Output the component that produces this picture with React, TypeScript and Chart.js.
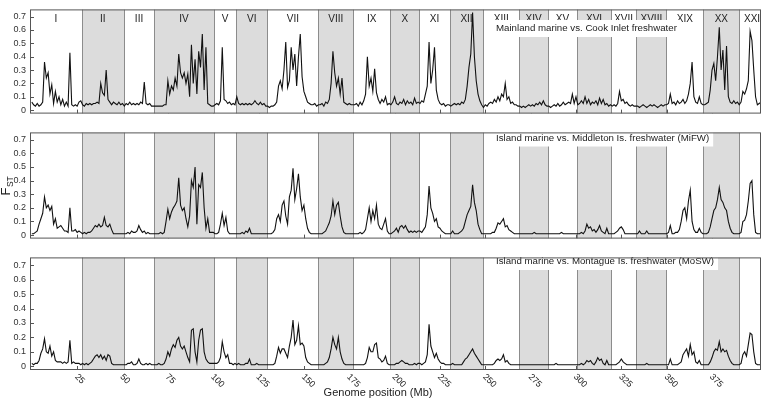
import React, { useEffect, useRef } from "react";
import { Chart, registerables } from "chart.js";

Chart.register(...registerables);

// ---- data -------------------------------------------------------------
// genome position grid (Mb), one window per Mb
const positionsMb = Array.from({ length: 403 }, (_, i) => i);

// Mainland marine vs. Cook Inlet freshwater
const fstCookInlet = [
  0.06, 0.04, 0.03, 0.05, 0.03, 0.04, 0.06, 0.36, 0.24, 0.28,
  0.12, 0.19, 0.05, 0.14, 0.06, 0.10, 0.04, 0.08, 0.03, 0.06,
  0.03, 0.43, 0.04, 0.03, 0.04, 0.03, 0.06, 0.07, 0.04, 0.03,
  0.05, 0.04, 0.05, 0.04, 0.05, 0.05, 0.06, 0.05, 0.20, 0.13,
  0.11, 0.30, 0.08, 0.06, 0.04, 0.06, 0.05, 0.04, 0.06, 0.04,
  0.05, 0.03, 0.05, 0.04, 0.06, 0.04, 0.05, 0.04, 0.05, 0.04,
  0.06, 0.05, 0.21, 0.05, 0.04, 0.05, 0.03, 0.03, 0.03, 0.03,
  0.03, 0.03, 0.03, 0.04, 0.04, 0.22, 0.12, 0.18, 0.15, 0.24,
  0.18, 0.42, 0.28, 0.24, 0.28, 0.20, 0.27, 0.10, 0.49, 0.20,
  0.38, 0.12, 0.44, 0.32, 0.57, 0.15, 0.47, 0.05, 0.04, 0.03,
  0.03, 0.04, 0.05, 0.04, 0.07, 0.47, 0.08, 0.07, 0.05, 0.06,
  0.04, 0.05, 0.04, 0.10, 0.05, 0.04, 0.05, 0.04, 0.05, 0.04,
  0.05, 0.04, 0.05, 0.07, 0.05, 0.04, 0.06, 0.04, 0.05, 0.03,
  0.03, 0.02, 0.03, 0.03, 0.04, 0.06, 0.18, 0.22, 0.16, 0.30,
  0.51, 0.17, 0.22, 0.47, 0.30, 0.42, 0.18, 0.40, 0.57, 0.25,
  0.14, 0.10, 0.06, 0.05, 0.04, 0.04, 0.05, 0.03, 0.04, 0.04,
  0.05, 0.03, 0.06, 0.05, 0.08, 0.20, 0.44, 0.28, 0.18, 0.24,
  0.12, 0.24, 0.06, 0.05, 0.04, 0.05, 0.04, 0.04, 0.04, 0.05,
  0.03, 0.06, 0.04, 0.07, 0.12, 0.40, 0.18, 0.24, 0.14, 0.31,
  0.13, 0.08, 0.05, 0.08, 0.06, 0.10, 0.04, 0.05, 0.04, 0.06,
  0.10, 0.05, 0.04, 0.06, 0.05, 0.08, 0.04, 0.07, 0.05, 0.06,
  0.04, 0.09, 0.05, 0.06, 0.05, 0.07, 0.06, 0.12, 0.18, 0.51,
  0.20, 0.30, 0.47, 0.15, 0.08, 0.05, 0.04, 0.05, 0.03, 0.04,
  0.04, 0.03, 0.04, 0.05, 0.04, 0.05, 0.04, 0.06, 0.05, 0.08,
  0.18, 0.32, 0.42, 0.73, 0.40, 0.22, 0.12, 0.07, 0.04, 0.02,
  0.04, 0.03, 0.05, 0.06, 0.05, 0.08, 0.06, 0.10, 0.07, 0.12,
  0.10, 0.20, 0.08, 0.10, 0.05, 0.06, 0.04, 0.04, 0.03, 0.03,
  0.02, 0.03, 0.02, 0.03, 0.04, 0.03, 0.04, 0.03, 0.05, 0.04,
  0.06, 0.04, 0.07, 0.04, 0.03, 0.03, 0.02, 0.03, 0.04, 0.03,
  0.05, 0.03, 0.04, 0.06, 0.04, 0.05, 0.06, 0.05, 0.12, 0.05,
  0.10, 0.04, 0.05, 0.07, 0.05, 0.10, 0.05, 0.08, 0.04, 0.06,
  0.05, 0.07, 0.04, 0.09, 0.05, 0.08, 0.04, 0.05, 0.03, 0.04,
  0.03, 0.04, 0.03, 0.05, 0.14, 0.07, 0.08, 0.05, 0.06, 0.04,
  0.03, 0.04, 0.03, 0.03, 0.03, 0.02, 0.03, 0.04, 0.03, 0.02,
  0.03, 0.04, 0.03, 0.04, 0.03, 0.02, 0.03, 0.04, 0.03, 0.04,
  0.04, 0.05, 0.12, 0.05, 0.06, 0.04, 0.07, 0.05, 0.06, 0.08,
  0.05, 0.07, 0.12, 0.20, 0.36, 0.10, 0.06, 0.05, 0.10, 0.05,
  0.04, 0.04, 0.05, 0.06, 0.15, 0.30, 0.35, 0.22, 0.40, 0.62,
  0.30, 0.45, 0.15, 0.48, 0.10, 0.06, 0.05, 0.07, 0.05, 0.06,
  0.04, 0.06, 0.14, 0.12, 0.16, 0.22, 0.59, 0.52, 0.30, 0.10,
  0.04, 0.05, 0.06,
];

// Island marine vs. Middleton Is. freshwater (MiFW)
const fstMiddleton = [
  0.01, 0.01, 0.02, 0.03, 0.08, 0.12, 0.16, 0.28, 0.20, 0.22,
  0.18, 0.21, 0.08, 0.12, 0.05, 0.06, 0.07, 0.05, 0.03, 0.03,
  0.02, 0.20, 0.03, 0.03, 0.04, 0.02, 0.03, 0.02, 0.01, 0.02,
  0.01, 0.02, 0.02, 0.03, 0.05, 0.07, 0.06, 0.08, 0.06, 0.07,
  0.13, 0.07, 0.06, 0.08, 0.04, 0.01, 0.01, 0.01, 0.01, 0.01,
  0.01, 0.01, 0.01, 0.02, 0.01, 0.03, 0.02, 0.02, 0.03, 0.07,
  0.04, 0.02, 0.03, 0.01, 0.02, 0.01, 0.01, 0.01, 0.01, 0.01,
  0.01, 0.02, 0.01, 0.02, 0.10, 0.19, 0.12, 0.17, 0.20, 0.22,
  0.25, 0.42, 0.22, 0.18, 0.20, 0.12, 0.06, 0.14, 0.40, 0.35,
  0.50, 0.08, 0.37, 0.35, 0.46, 0.20, 0.05, 0.12, 0.02, 0.02,
  0.02, 0.01, 0.01, 0.02, 0.08, 0.16, 0.07, 0.13, 0.03, 0.01,
  0.01, 0.01, 0.01, 0.01, 0.01, 0.01, 0.02, 0.01, 0.03, 0.02,
  0.05, 0.01, 0.01, 0.01, 0.01, 0.01, 0.01, 0.01, 0.01, 0.01,
  0.01, 0.01, 0.01, 0.02, 0.04, 0.12, 0.15, 0.10, 0.22, 0.25,
  0.14, 0.08, 0.28, 0.33, 0.49, 0.26, 0.34, 0.45, 0.28, 0.18,
  0.22, 0.12, 0.05, 0.02, 0.01, 0.01, 0.01, 0.01, 0.01, 0.01,
  0.01, 0.02, 0.03, 0.06, 0.09, 0.14, 0.25, 0.15, 0.22, 0.24,
  0.14, 0.06, 0.02, 0.01, 0.01, 0.01, 0.01, 0.01, 0.01, 0.01,
  0.01, 0.02, 0.01, 0.02, 0.04, 0.12, 0.20, 0.10, 0.18, 0.12,
  0.22, 0.08, 0.05, 0.04, 0.08, 0.12, 0.03, 0.01, 0.01, 0.02,
  0.03, 0.05, 0.02, 0.06, 0.07, 0.05, 0.07, 0.04, 0.02, 0.03,
  0.02, 0.03, 0.02, 0.03, 0.03, 0.02, 0.04, 0.06, 0.15, 0.36,
  0.20, 0.16, 0.10, 0.12, 0.06, 0.05, 0.03, 0.02, 0.01, 0.01,
  0.01, 0.01, 0.03, 0.01, 0.01, 0.01, 0.02, 0.03, 0.05, 0.10,
  0.15, 0.18, 0.21, 0.37, 0.24, 0.18, 0.08, 0.04, 0.01, 0.01,
  0.01, 0.01, 0.01, 0.01, 0.02, 0.02, 0.05, 0.09, 0.08, 0.10,
  0.12, 0.06, 0.07, 0.04, 0.03, 0.02, 0.01, 0.01, 0.01, 0.01,
  0.01, 0.01, 0.01, 0.01, 0.01, 0.01, 0.01, 0.02, 0.01, 0.01,
  0.01, 0.01, 0.01, 0.01, 0.01, 0.01, 0.01, 0.01, 0.01, 0.01,
  0.01, 0.01, 0.02, 0.01, 0.01, 0.01, 0.01, 0.01, 0.01, 0.01,
  0.01, 0.01, 0.01, 0.02, 0.01, 0.03, 0.08, 0.05, 0.06, 0.03,
  0.04, 0.02, 0.04, 0.07, 0.03, 0.02, 0.01, 0.05, 0.01, 0.01,
  0.01, 0.01, 0.02, 0.03, 0.05, 0.06, 0.04, 0.01, 0.01, 0.01,
  0.01, 0.01, 0.01, 0.01, 0.01, 0.03, 0.01, 0.01, 0.01, 0.03,
  0.01, 0.01, 0.01, 0.01, 0.01, 0.01, 0.01, 0.01, 0.01, 0.01,
  0.01, 0.02, 0.07, 0.01, 0.01, 0.02, 0.02, 0.04, 0.10, 0.18,
  0.20, 0.12, 0.25, 0.33, 0.10, 0.04, 0.02, 0.02, 0.05, 0.02,
  0.01, 0.01, 0.01, 0.02, 0.06, 0.12, 0.18, 0.20, 0.26, 0.35,
  0.26, 0.24, 0.20, 0.18, 0.10, 0.05, 0.02, 0.01, 0.01, 0.01,
  0.01, 0.02, 0.10, 0.11, 0.15, 0.25, 0.38, 0.40, 0.15, 0.02,
  0.01, 0.01, 0.01,
];

// Island marine vs. Montague Is. freshwater (MoSW)
const fstMontague = [
  0.02, 0.01, 0.02, 0.02, 0.04, 0.09, 0.12, 0.19, 0.10, 0.09,
  0.14, 0.07, 0.10, 0.04, 0.03, 0.03, 0.03, 0.02, 0.03, 0.02,
  0.03, 0.18, 0.02, 0.03, 0.02, 0.02, 0.02, 0.01, 0.02, 0.01,
  0.02, 0.01, 0.02, 0.03, 0.05, 0.07, 0.08, 0.06, 0.08, 0.05,
  0.07, 0.04, 0.08, 0.07, 0.02, 0.01, 0.01, 0.01, 0.01, 0.01,
  0.01, 0.01, 0.01, 0.02, 0.02, 0.03, 0.01, 0.01, 0.02, 0.05,
  0.02, 0.01, 0.01, 0.02, 0.01, 0.02, 0.01, 0.01, 0.01, 0.01,
  0.02, 0.01, 0.01, 0.02, 0.05, 0.10, 0.07, 0.12, 0.15, 0.13,
  0.18, 0.20, 0.14, 0.12, 0.14, 0.10, 0.06, 0.03, 0.25, 0.26,
  0.10, 0.03, 0.18, 0.25, 0.26, 0.10, 0.05, 0.03, 0.02, 0.02,
  0.02, 0.02, 0.02, 0.03, 0.06, 0.17, 0.10, 0.06, 0.08, 0.02,
  0.02, 0.01, 0.02, 0.01, 0.02, 0.01, 0.01, 0.01, 0.02, 0.02,
  0.05, 0.01, 0.01, 0.01, 0.02, 0.01, 0.01, 0.01, 0.01, 0.01,
  0.01, 0.01, 0.01, 0.01, 0.02, 0.07, 0.13, 0.09, 0.12, 0.12,
  0.09, 0.06, 0.14, 0.20, 0.32, 0.15, 0.18, 0.28, 0.15, 0.16,
  0.14, 0.06, 0.03, 0.02, 0.01, 0.01, 0.01, 0.01, 0.01, 0.01,
  0.01, 0.01, 0.02, 0.03, 0.06, 0.12, 0.20, 0.15, 0.12, 0.20,
  0.10, 0.05, 0.02, 0.01, 0.01, 0.01, 0.01, 0.01, 0.01, 0.01,
  0.01, 0.01, 0.01, 0.01, 0.02, 0.06, 0.13, 0.10, 0.10, 0.15,
  0.16, 0.06, 0.05, 0.03, 0.04, 0.07, 0.02, 0.01, 0.01, 0.01,
  0.01, 0.02, 0.02, 0.03, 0.04, 0.03, 0.02, 0.02, 0.01, 0.01,
  0.01, 0.02, 0.01, 0.02, 0.02, 0.01, 0.02, 0.03, 0.08, 0.29,
  0.14, 0.10, 0.06, 0.09, 0.05, 0.03, 0.02, 0.02, 0.01, 0.01,
  0.01, 0.01, 0.02, 0.01, 0.01, 0.01, 0.01, 0.01, 0.03, 0.05,
  0.06, 0.08, 0.10, 0.12, 0.09, 0.07, 0.05, 0.03, 0.01, 0.01,
  0.01, 0.01, 0.01, 0.01, 0.01, 0.02, 0.04, 0.05, 0.04, 0.05,
  0.08, 0.03, 0.04, 0.02, 0.01, 0.01, 0.01, 0.01, 0.01, 0.01,
  0.01, 0.01, 0.01, 0.01, 0.01, 0.01, 0.01, 0.01, 0.01, 0.01,
  0.01, 0.01, 0.01, 0.01, 0.01, 0.01, 0.01, 0.01, 0.01, 0.02,
  0.01, 0.01, 0.01, 0.01, 0.01, 0.01, 0.01, 0.01, 0.01, 0.01,
  0.01, 0.01, 0.01, 0.02, 0.01, 0.02, 0.04, 0.03, 0.04, 0.02,
  0.01, 0.03, 0.06, 0.04, 0.05, 0.02, 0.01, 0.04, 0.01, 0.01,
  0.01, 0.01, 0.01, 0.02, 0.03, 0.05, 0.03, 0.02, 0.01, 0.01,
  0.01, 0.01, 0.01, 0.01, 0.01, 0.01, 0.01, 0.01, 0.01, 0.02,
  0.01, 0.01, 0.01, 0.01, 0.01, 0.01, 0.01, 0.01, 0.01, 0.01,
  0.01, 0.01, 0.05, 0.01, 0.01, 0.01, 0.01, 0.02, 0.03, 0.08,
  0.10, 0.12, 0.07, 0.15, 0.08, 0.10, 0.03, 0.02, 0.04, 0.01,
  0.01, 0.01, 0.01, 0.01, 0.03, 0.06, 0.10, 0.12, 0.11, 0.17,
  0.10, 0.12, 0.10, 0.11, 0.07, 0.04, 0.02, 0.01, 0.01, 0.01,
  0.01, 0.02, 0.08, 0.10, 0.07, 0.15, 0.23, 0.22, 0.10, 0.02,
  0.01, 0.01, 0.01,
];

const panelTitles = [
  "Mainland marine vs. Cook Inlet freshwater",
  "Island marine vs. Middleton Is. freshwater (MiFW)",
  "Island marine vs. Montague Is. freshwater (MoSW)",
];

const chromosomeNames = [
  "I", "II", "III", "IV", "V", "VI", "VII", "VIII", "IX", "X", "XI",
  "XII", "XIII", "XIV", "XV", "XVI", "XVII", "XVIII", "XIX", "XX", "XXI",
];
// chromosome start / end positions along the concatenated genome (Mb)
const chromosomeStartsMb = [
  -1, 27.5, 50.7, 67.5, 100.3, 112.7, 129.8, 158.0, 177.2, 197.6, 213.6,
  230.4, 248.9, 268.8, 284.4, 300.7, 319.2, 333.3, 349.8, 370.2, 390.1,
];
const chromosomeEndsMb = [
  27.5, 50.7, 67.5, 100.3, 112.7, 129.8, 158.0, 177.2, 197.6, 213.6, 230.4,
  248.9, 268.8, 284.4, 300.7, 319.2, 333.3, 349.8, 370.2, 390.1, 404,
];

const xTickValues = [25, 50, 75, 100, 125, 150, 175, 200, 225, 250, 275, 300, 325, 350, 375];
const yTickValues = [0, 0.1, 0.2, 0.3, 0.4, 0.5, 0.6, 0.7];
const yTickLabels = ["0", "0.1", "0.2", "0.3", "0.4", "0.5", "0.6", "0.7"];

const xAxisTitle = "Genome position (Mb)";
const yAxisTitleMain = "F";
const yAxisTitleSub = "ST";

// ---- styling / layout -------------------------------------------------
const FONT = "'Liberation Sans', Arial, Helvetica, sans-serif";
const X_MIN = -1;
const X_MAX = 402;
const Y_MIN = -0.026;
const Y_MAX = 0.754;

type PanelLayout = { top: number; height: number; padTop: number; padBottom: number; labelY: number };
const panelLayouts: PanelLayout[] = [
  { top: 0, height: 123, padTop: 1, padBottom: 1, labelY: 28 },
  { top: 123, height: 125, padTop: 2, padBottom: 2, labelY: 137.5 },
  { top: 248, height: 152, padTop: 1, padBottom: 30, labelY: 261 },
];

function makePanelPlugin(panelIndex: number) {
  return {
    id: "genomePanel" + panelIndex,
    beforeDatasetsDraw(chart: any) {
      const { ctx, chartArea: a, scales } = chart;
      const xs = scales.x;
      const ys = scales.y;
      ctx.save();
      ctx.beginPath();
      ctx.rect(a.left, a.top, a.right - a.left, a.bottom - a.top);
      ctx.clip();
      // inward x tick marks (covered by the grey bands)
      ctx.strokeStyle = "#555";
      ctx.lineWidth = 1;
      for (const v of xTickValues) {
        const px = Math.round(xs.getPixelForValue(v)) + 0.5;
        ctx.beginPath();
        ctx.moveTo(px, a.bottom);
        ctx.lineTo(px, a.bottom - 4);
        ctx.stroke();
      }
      // alternating chromosome bands
      ctx.fillStyle = "#dcdcdc";
      for (let i = 1; i < chromosomeNames.length; i += 2) {
        const x0 = Math.round(xs.getPixelForValue(chromosomeStartsMb[i]));
        const x1 = Math.min(Math.round(xs.getPixelForValue(chromosomeEndsMb[i])), a.right);
        ctx.fillRect(x0, a.top, x1 - x0, a.bottom - a.top);
      }
      // chromosome boundaries
      ctx.strokeStyle = "#8c8c8c";
      for (let i = 1; i < chromosomeNames.length; i++) {
        const px = Math.round(xs.getPixelForValue(chromosomeStartsMb[i])) + 0.5;
        ctx.beginPath();
        ctx.moveTo(px, a.top);
        ctx.lineTo(px, a.bottom);
        ctx.stroke();
      }
      // inward y tick marks
      ctx.strokeStyle = "#555";
      for (const v of yTickValues) {
        const py = Math.round(ys.getPixelForValue(v)) + 0.5;
        ctx.beginPath();
        ctx.moveTo(a.left, py);
        ctx.lineTo(a.left + 4, py);
        ctx.stroke();
      }
      // chromosome names on the top panel
      if (panelIndex === 0) {
        ctx.fillStyle = "#222";
        ctx.font = `10px ${FONT}`;
        ctx.textAlign = "center";
        ctx.textBaseline = "middle";
        for (let i = 0; i < chromosomeNames.length; i++) {
          const c = (chromosomeStartsMb[i] + chromosomeEndsMb[i]) / 2;
          ctx.fillText(chromosomeNames[i], xs.getPixelForValue(c), a.top + 10);
        }
      }
      ctx.restore();
    },
    afterDatasetsDraw(chart: any) {
      const { ctx, chartArea: a } = chart;
      const layout = panelLayouts[panelIndex];
      ctx.save();
      // comparison label on a white box
      ctx.font = `9.7px ${FONT}`;
      const title = panelTitles[panelIndex];
      const w = ctx.measureText(title).width;
      const tx = 496;
      const ty = layout.labelY - layout.top;
      ctx.fillStyle = "#ffffff";
      ctx.fillRect(tx - 4, ty - 8, w + 8, 17);
      ctx.fillStyle = "#222";
      ctx.textAlign = "left";
      ctx.textBaseline = "middle";
      ctx.fillText(title, tx, ty + 0.5);
      // frame
      ctx.strokeStyle = "#555";
      ctx.lineWidth = 1;
      ctx.strokeRect(a.left + 0.5, a.top + 0.5, a.right - a.left - 1, a.bottom - a.top - 1);
      ctx.restore();
    },
    afterDraw(chart: any) {
      const { ctx, chartArea: a, scales } = chart;
      ctx.save();
      ctx.fillStyle = "#222";
      if (panelIndex === 1) {
        // F_ST axis title
        const cy = (a.top + a.bottom) / 2;
        ctx.translate(10, cy + 10);
        ctx.rotate(-Math.PI / 2);
        ctx.textAlign = "left";
        ctx.textBaseline = "alphabetic";
        ctx.font = `13px ${FONT}`;
        ctx.fillText(yAxisTitleMain, 0, 0);
        const fw = ctx.measureText(yAxisTitleMain).width;
        ctx.font = `8.5px ${FONT}`;
        ctx.fillText(yAxisTitleSub, fw + 0.5, 3);
      }
      if (panelIndex === 2) {
        const xs = scales.x;
        ctx.font = `9px ${FONT}`;
        ctx.textAlign = "left";
        ctx.textBaseline = "middle";
        for (const v of xTickValues) {
          const px = xs.getPixelForValue(v);
          ctx.save();
          ctx.translate(px - 1, a.bottom + 5.5);
          ctx.rotate(Math.PI / 4);
          ctx.fillText(String(v), 0, 0);
          ctx.restore();
        }
        ctx.font = `11px ${FONT}`;
        ctx.textAlign = "center";
        ctx.fillText(xAxisTitle, 378, a.bottom + 22.5);
      }
      ctx.restore();
    },
  };
}

function FstPanel({ panelIndex, values }: { panelIndex: number; values: number[] }) {
  const ref = useRef<HTMLCanvasElement | null>(null);
  const layout = panelLayouts[panelIndex];
  useEffect(() => {
    if (!ref.current) return;
    const chart = new Chart(ref.current, {
      type: "line",
      data: {
        labels: positionsMb,
        datasets: [
          {
            data: positionsMb.map((x, i) => ({ x, y: values[i] })),
            borderColor: "#111111",
            borderWidth: 1.1,
            pointRadius: 0,
            tension: 0,
            fill: false,
          },
        ],
      },
      options: {
        animation: false,
        responsive: false,
        maintainAspectRatio: false,
        devicePixelRatio: 1,
        layout: {
          autoPadding: false,
          padding: { left: 0, right: 1, top: layout.padTop, bottom: layout.padBottom },
        },
        plugins: { legend: { display: false }, tooltip: { enabled: false } },
        scales: {
          x: { type: "linear", min: X_MIN, max: X_MAX, display: false },
          y: {
            type: "linear",
            min: Y_MIN,
            max: Y_MAX,
            position: "left",
            afterFit: (s: any) => {
              s.width = 30;
            },
            afterBuildTicks: (s: any) => {
              s.ticks = yTickValues.map((v) => ({ value: v }));
            },
            grid: { display: false, drawTicks: false },
            border: { display: false },
            ticks: {
              padding: 4,
              color: "#333",
              font: { family: FONT, size: 9 },
              callback: (_v: any, i: number) => yTickLabels[i],
            },
          },
        },
      } as any,
      plugins: [makePanelPlugin(panelIndex)],
    });
    return () => chart.destroy();
  }, [panelIndex, values]);
  return (
    <canvas
      ref={ref}
      width={762}
      height={layout.height}
      style={{ position: "absolute", left: 0, top: layout.top, width: 762, height: layout.height, display: "block" }}
    />
  );
}

export default function App() {
  return (
    <div style={{ position: "absolute", left: 0, top: 0, width: 762, height: 400, background: "#ffffff", overflow: "hidden" }}>
      <FstPanel panelIndex={0} values={fstCookInlet} />
      <FstPanel panelIndex={1} values={fstMiddleton} />
      <FstPanel panelIndex={2} values={fstMontague} />
    </div>
  );
}
